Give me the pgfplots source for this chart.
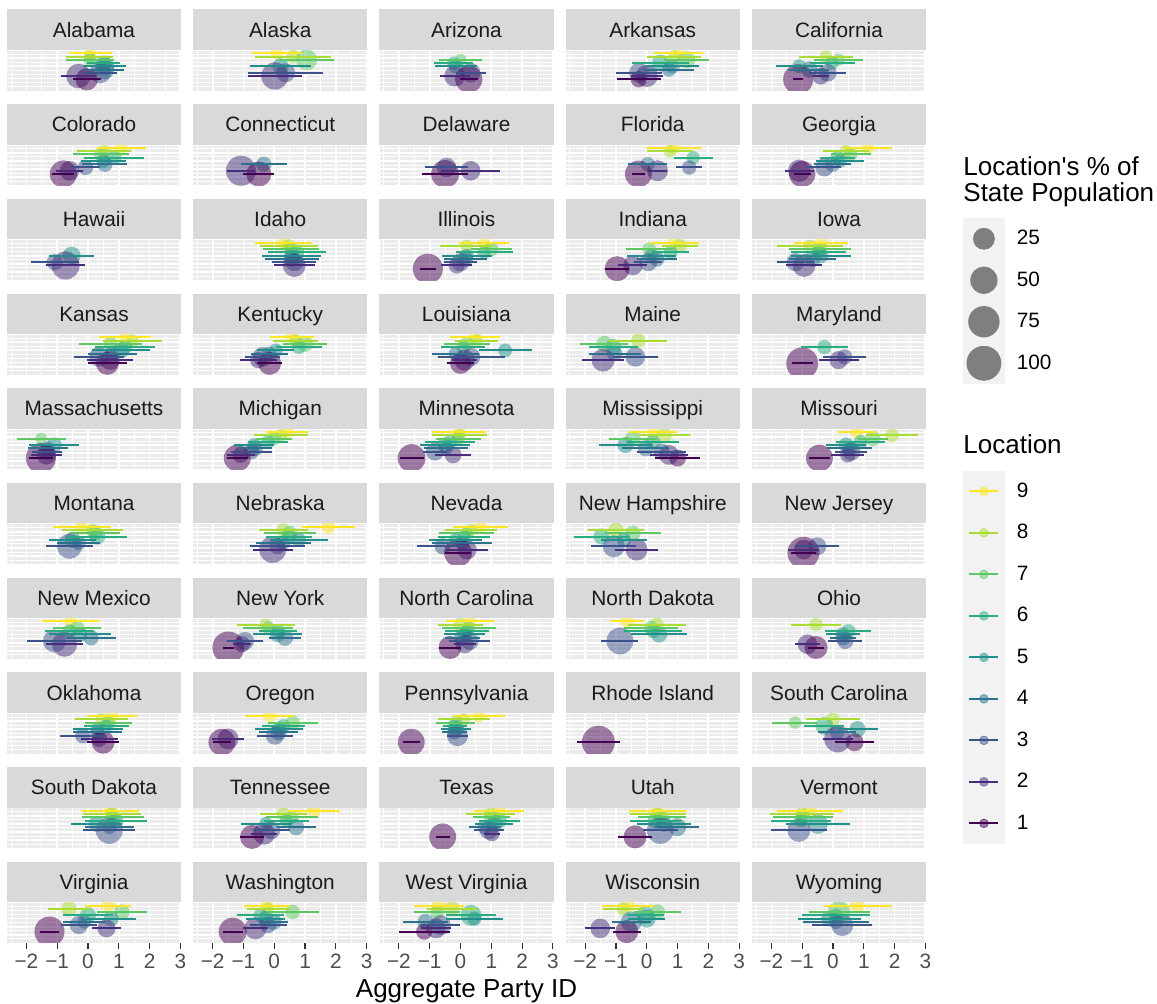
\documentclass[border=0pt]{standalone}
\usepackage{fontspec}
\setmainfont{Liberation Sans}
\usepackage{pgfplots}
\usepackage{pgfplotstable}
\pgfplotsset{compat=1.18}
\definecolor{panelgrey}{HTML}{EBEBEB}
\definecolor{stripgrey}{HTML}{D9D9D9}
\definecolor{striptext}{HTML}{1A1A1A}
\definecolor{tickgrey}{HTML}{4D4D4D}
\definecolor{tickmark}{HTML}{333333}
\definecolor{keybg}{HTML}{F2F2F2}
\definecolor{greyfifty}{HTML}{7F7F7F}
\definecolor{v1}{RGB}{68,1,84}
\definecolor{v2}{RGB}{71,45,123}
\definecolor{v3}{RGB}{59,82,139}
\definecolor{v4}{RGB}{44,114,142}
\definecolor{v5}{RGB}{33,144,140}
\definecolor{v6}{RGB}{39,173,129}
\definecolor{v7}{RGB}{93,200,99}
\definecolor{v8}{RGB}{170,220,50}
\definecolor{v9}{RGB}{253,231,37}

\pgfplotsset{
 colormap={vir}{rgb255=(68,1,84) rgb255=(71,45,123) rgb255=(59,82,139) rgb255=(44,114,142) rgb255=(33,144,140) rgb255=(39,173,129) rgb255=(93,200,99) rgb255=(170,220,50) rgb255=(253,231,37)},
 panel/.style={
  scale only axis, width=87pt, height=20.35pt, anchor=north west,
  xmin=-2.63, xmax=3.02, ymin=-2.5, ymax=10,
  axis background/.style={fill=panelgrey},
  axis line style={draw=none},
  xtick={-2,-1,0,1,2,3}, minor xtick={-2.5,-1.5,-0.5,0.5,1.5,2.5},
  ytick={0,2.5,5,7.5,10}, minor ytick={-1.25,1.25,3.75,6.25,8.75},
  xticklabels={}, yticklabels={},
  grid=both,
  major grid style={white, line width=0.9pt},
  minor grid style={white, line width=0.45pt},
  xtick style={draw=none}, ytick style={draw=none},
  minor tick length=0pt,
  every axis title/.style={at={(0.5,1)}, anchor=south, yshift=0pt, fill=stripgrey, text=striptext,
    minimum width=87pt, minimum height=20.25pt, inner sep=0pt, outer sep=0pt,
    text height=7.45pt, text depth=0pt, font=\fontsize{10.4}{12}\selectfont},
  colormap name=vir, point meta min=1, point meta max=9,
  clip marker paths=true,
 },
 bottomrow/.style={
  xticklabels={−2,−1,0,1,2,3},
  xtick style={draw=tickmark, line width=0.55pt},
  major tick length=3.25pt, tick align=outside, xtick pos=lower,
  xticklabel style={font=\fontsize{10.4}{12}\selectfont, text=tickgrey, inner sep=0pt, yshift=-1.9pt},
 },
}

\newcommand{\panel}[5]{%
\begin{axis}[panel, at={({(7+186.25*#1)*0.5pt},{-(50+94.7*#2)*0.5pt})}, title={#3}, #5]
\addplot[scatter, only marks, mark=*, point meta=\thisrow{loc},
  mark options={draw opacity=0},
  scatter/use mapped color={draw=mapped color, draw opacity=0, fill=mapped color, fill opacity=0.5},
  visualization depends on={2+0.65*sqrt(\thisrow{v}) \as \prad},
  scatter/@pre marker code/.append style={/tikz/mark size=\prad}]
  table[x=m, y=loc] {#4};
\addplot[quiver={u=2*\thisrow{h}, v=0, colored=mapped color, every arrow/.append style={-, line width=1pt}},
  mark=none, point meta=\thisrow{loc}]
  table[x expr=\thisrow{m}-\thisrow{h}, y=loc] {#4};
\end{axis}}

% ---------------- data: loc, mean, half-width, population share ----------------
\pgfplotstableread{
loc m h v
9 0.08 0.70 2
8 0.05 0.76 2
7 0.07 0.78 4
6 0.51 0.54 8
5 0.55 0.70 15
4 0.54 0.64 20
3 0.40 0.55 25
2 -0.31 0.56 40
1 -0.04 0.46 30
}\datAL
\pgfplotstableread{
loc m h v
9 0.08 0.81 3
8 0.61 1.22 5
7 1.05 0.90 25
5 0.20 0.98 10
3 0.37 1.22 18
2 0.02 0.87 55
}\datAK
\pgfplotstableread{
loc m h v
7 0.01 0.70 2
6 -0.22 0.64 4
5 -0.15 0.67 6
3 0.33 0.49 20
2 -0.19 0.49 25
1 0.27 0.30 55
}\datAZ
\pgfplotstableread{
loc m h v
9 1.04 0.80 3
8 0.89 0.87 3
7 1.30 0.73 12
6 0.45 0.92 12
5 0.84 0.87 6
4 0.72 0.82 6
3 -0.25 0.76 21
2 0.00 0.52 29
1 -0.26 0.72 10
}\datAR
\pgfplotstableread{
loc m h v
8 -0.23 0.87 3
7 0.18 0.79 3
6 -0.03 0.73 4
5 -1.10 0.76 5
4 -0.77 0.65 10
3 -0.17 0.60 14
2 -0.40 0.26 12
1 -1.13 0.17 72
}\datCA
\pgfplotstableread{
loc m h v
9 1.08 0.80 3
8 0.53 0.88 3
7 0.42 0.92 5
6 0.85 0.97 6
5 0.50 0.72 5
4 0.55 0.73 8
3 -0.08 0.48 8
2 -0.60 0.45 20
1 -0.80 0.36 55
}\datCO
\pgfplotstableread{
loc m h v
4 -0.34 0.75 8
2 -1.08 0.46 72
1 -0.50 0.50 43
}\datCT
\pgfplotstableread{
loc m h v
3 -0.45 0.70 20
2 0.33 0.95 20
1 -0.50 0.75 59
}\datDE
\pgfplotstableread{
loc m h v
9 0.87 0.90 3
8 0.75 0.75 3
6 1.51 0.63 4
4 0.03 0.64 6
3 1.38 0.43 6
2 0.35 0.30 25
1 -0.27 0.22 53
}\datFL
\pgfplotstableread{
loc m h v
9 1.13 0.79 3
8 0.42 0.76 3
7 0.58 0.65 4
6 0.14 0.56 5
5 0.23 0.79 5
4 -0.01 0.60 8
3 -0.28 0.55 15
2 -1.10 0.47 30
1 -1.00 0.28 50
}\datGA
\pgfplotstableread{
loc m h v
5 -0.53 0.73 15
3 -1.08 0.78 10
2 -0.73 0.64 60
}\datHI
\pgfplotstableread{
loc m h v
9 0.31 0.93 3
8 0.48 0.93 4
7 0.55 0.90 5
6 0.74 0.93 6
5 0.57 0.96 8
4 0.57 0.87 10
3 0.65 0.72 15
2 0.65 0.67 33
}\datID
\pgfplotstableread{
loc m h v
9 0.77 0.82 3
8 0.20 0.87 3
7 1.00 0.67 6
6 0.77 0.93 4
5 0.20 0.81 5
4 0.16 0.70 8
3 0.00 0.52 15
2 -0.12 0.50 10
1 -1.06 0.26 72
}\datIL
\pgfplotstableread{
loc m h v
9 0.90 0.80 3
8 1.08 0.57 5
7 0.08 0.76 5
6 0.78 0.60 5
5 0.16 0.79 6
4 0.33 0.64 8
3 0.05 0.46 15
2 -0.45 0.47 20
1 -0.96 0.38 43
}\datIN
\pgfplotstableread{
loc m h v
9 -0.39 0.87 3
8 -0.75 1.07 3
7 -0.42 1.00 6
6 -0.47 0.90 5
5 -0.40 0.98 8
4 -0.67 0.77 10
3 -1.22 0.61 15
2 -0.94 0.59 33
}\datIA
\pgfplotstableread{
loc m h v
9 1.21 0.84 3
8 1.45 0.96 3
7 0.73 1.03 5
6 1.20 0.96 6
5 1.07 0.93 10
4 0.80 0.80 6
3 0.36 0.82 20
2 0.72 0.75 20
1 0.63 0.64 33
}\datKS
\pgfplotstableread{
loc m h v
9 0.58 0.72 3
8 0.69 0.72 3
7 1.00 0.70 10
6 0.80 0.75 5
5 0.05 0.60 5
4 -0.15 0.60 6
3 -0.38 0.58 20
2 -0.52 0.60 10
1 -0.15 0.40 33
}\datKY
\pgfplotstableread{
loc m h v
9 0.48 0.81 3
8 0.53 0.70 3
7 0.20 0.75 5
6 0.08 0.72 4
5 1.45 0.86 5
4 -0.16 0.75 5
3 0.35 1.09 15
2 0.13 0.40 25
1 0.00 0.45 25
}\datLA
\pgfplotstableread{
loc m h v
8 -0.28 0.95 6
7 -1.38 0.78 10
6 -1.09 0.79 10
4 -1.04 0.84 8
3 -0.37 0.73 20
2 -1.42 0.68 33
}\datME
\pgfplotstableread{
loc m h v
6 -0.28 0.76 6
3 0.38 0.70 8
2 0.18 0.65 15
1 -1.00 0.34 85
}\datMD
\pgfplotstableread{
loc m h v
7 -1.52 0.79 2
5 -1.10 0.80 8
4 -1.30 0.65 5
3 -1.34 0.49 10
2 -1.35 0.50 20
1 -1.53 0.38 72
}\datMA
\pgfplotstableread{
loc m h v
9 0.42 0.68 3
8 0.21 0.87 3
7 0.00 0.58 5
6 -0.20 0.64 5
5 -0.65 0.65 5
4 -0.62 0.55 8
3 -0.74 0.68 8
2 -1.09 0.45 10
1 -1.20 0.35 53
}\datMI
\pgfplotstableread{
loc m h v
9 -0.04 0.87 3
8 -0.03 0.88 3
7 -0.07 0.72 4
6 -0.34 0.81 5
5 -0.50 0.81 8
4 -0.47 0.72 5
3 -0.83 0.38 15
2 -0.24 0.58 12
1 -1.59 0.39 59
}\datMN
\pgfplotstableread{
loc m h v
9 0.20 0.77 3
8 0.57 0.82 8
7 -0.45 0.77 8
6 0.20 0.84 6
5 -0.69 0.87 10
4 -0.03 0.76 10
3 0.48 0.79 10
2 0.72 0.61 21
1 1.00 0.72 12
}\datMS
\pgfplotstableread{
loc m h v
9 0.78 0.63 4
8 1.92 0.84 5
7 1.30 0.50 8
6 0.90 0.80 5
5 0.43 0.65 8
4 0.55 0.73 6
3 0.60 0.52 15
2 0.48 0.54 8
1 -0.44 0.34 53
}\datMO
\pgfplotstableread{
loc m h v
9 -0.20 0.94 3
8 0.15 1.00 4
7 0.22 0.81 8
6 0.30 0.97 10
5 -0.50 0.75 10
4 -0.30 0.70 6
3 -0.60 0.76 43
}\datMT
\pgfplotstableread{
loc m h v
9 1.76 0.87 5
8 0.30 0.81 5
7 0.50 0.84 8
6 0.48 0.75 5
5 0.80 0.93 6
4 0.30 0.90 5
3 0.10 0.90 10
2 -0.05 0.65 53
}\datNE
\pgfplotstableread{
loc m h v
9 0.65 0.90 3
8 0.34 0.84 3
7 0.20 0.90 3
6 0.12 0.84 4
5 -0.16 0.85 4
4 0.06 0.97 5
3 -0.58 0.82 10
2 0.21 0.68 20
1 -0.08 0.43 59
}\datNV
\pgfplotstableread{
loc m h v
8 -1.00 0.91 8
7 -0.45 0.91 8
6 -1.47 0.90 10
5 -0.74 0.76 6
3 -1.07 0.73 29
2 -0.33 0.71 29
}\datNH
\pgfplotstableread{
loc m h v
3 -0.51 0.72 15
2 -0.95 0.50 20
1 -0.96 0.41 85
}\datNJ
\pgfplotstableread{
loc m h v
9 -0.57 0.92 3
7 -0.35 0.78 6
6 -0.60 0.80 5
5 -0.25 1.00 6
4 0.10 0.80 8
3 -1.09 0.88 33
2 -0.76 0.61 43
}\datNM
\pgfplotstableread{
loc m h v
8 -0.28 0.94 3
7 -0.19 0.81 4
6 0.12 0.62 6
5 0.10 0.80 8
4 0.35 0.52 10
3 -0.95 0.59 15
2 -1.05 0.28 10
1 -1.49 0.19 85
}\datNY
\pgfplotstableread{
loc m h v
9 0.31 0.77 3
8 0.00 0.74 5
7 0.28 0.87 4
6 0.21 0.72 4
5 0.13 0.68 5
4 0.06 0.56 10
3 0.30 0.66 15
2 0.14 0.35 15
1 -0.34 0.36 33
}\datNC
\pgfplotstableread{
loc m h v
9 -0.63 0.54 4
8 0.33 0.93 6
7 0.14 0.87 6
6 0.20 0.95 5
5 0.40 0.90 10
3 -0.87 0.60 53
}\datND
\pgfplotstableread{
loc m h v
8 -0.55 0.82 4
6 0.50 0.75 6
5 0.32 0.55 6
4 0.33 0.42 8
3 0.40 0.55 10
2 -0.83 0.40 20
1 -0.55 0.27 33
}\datOH
\pgfplotstableread{
loc m h v
9 0.78 0.81 4
8 0.44 0.85 3
7 0.67 0.76 4
6 0.60 0.72 4
5 0.32 0.81 5
4 0.30 0.80 5
3 -0.17 0.75 8
2 0.36 0.60 10
1 0.49 0.52 33
}\datOK
\pgfplotstableread{
loc m h v
9 -0.15 0.79 4
7 0.60 0.81 6
6 0.30 0.70 5
5 0.17 0.78 8
4 0.14 0.64 10
3 0.02 0.58 15
2 -1.50 0.52 25
1 -1.70 0.28 53
}\datOR
\pgfplotstableread{
loc m h v
9 0.60 0.85 3
8 0.11 0.84 3
7 -0.15 0.63 5
6 -0.18 0.38 4
5 -0.15 0.48 10
4 -0.20 0.40 6
3 -0.10 0.34 25
1 -1.60 0.28 53
}\datPA
\pgfplotstableread{
loc m h v
1 -1.57 0.69 92
}\datRI
\pgfplotstableread{
loc m h v
8 0.00 0.89 5
7 -1.23 0.74 3
6 -0.28 0.65 15
5 0.80 0.65 10
4 0.13 0.63 6
2 0.15 0.49 53
1 0.70 0.62 15
}\datSC
\pgfplotstableread{
loc m h v
9 0.74 0.93 4
8 0.78 0.93 4
7 0.82 1.00 8
6 0.90 1.00 8
5 0.28 0.84 10
4 0.70 0.80 5
3 0.69 0.84 53
}\datSD
\pgfplotstableread{
loc m h v
9 1.30 0.83 4
8 0.30 0.77 5
7 0.57 0.84 4
6 0.40 0.72 4
5 -0.27 0.81 5
4 0.71 0.63 10
3 -0.10 0.60 15
2 -0.33 0.42 29
1 -0.72 0.39 38
}\datTN
\pgfplotstableread{
loc m h v
9 1.26 0.81 4
8 0.98 0.79 4
7 1.00 0.60 8
6 1.26 0.67 8
5 1.10 0.62 10
4 0.78 0.51 6
3 0.92 0.49 15
2 1.02 0.27 8
1 -0.58 0.23 53
}\datTX
\pgfplotstableread{
loc m h v
9 0.35 0.92 4
8 0.35 0.91 4
7 0.50 0.77 6
6 0.27 0.83 8
5 0.56 0.89 10
4 0.99 0.72 15
3 0.44 0.56 53
1 -0.38 0.54 33
}\datUT
\pgfplotstableread{
loc m h v
9 -0.75 1.07 6
8 -1.00 1.03 4
7 -0.97 0.97 8
6 -1.04 0.98 5
5 -0.49 1.03 21
3 -1.11 0.91 33
}\datVT
\pgfplotstableread{
loc m h v
9 0.66 0.75 4
8 -0.62 0.69 8
7 1.10 0.80 8
6 0.00 0.81 10
5 0.75 0.80 8
4 -0.12 0.68 5
3 -0.30 0.58 15
2 0.60 0.48 15
1 -1.25 0.31 72
}\datVA
\pgfplotstableread{
loc m h v
9 -0.23 0.75 4
8 -0.20 0.70 3
7 0.60 0.85 6
6 -0.45 0.77 5
5 -0.28 0.64 8
4 -0.02 0.48 10
3 -0.20 0.60 10
2 -0.61 0.40 29
1 -1.35 0.33 59
}\datWA
\pgfplotstableread{
loc m h v
9 -0.70 0.82 6
8 -0.28 0.80 8
7 -0.76 0.75 5
6 0.34 0.81 25
5 0.45 0.92 6
4 -1.13 0.74 10
3 -0.64 0.64 21
2 -0.80 0.48 21
1 -1.18 0.83 10
}\datWV
\pgfplotstableread{
loc m h v
9 -0.60 0.84 4
8 -0.77 0.65 4
7 0.35 0.76 8
6 -0.05 0.60 15
5 0.00 0.60 15
4 -0.50 0.64 25
2 -1.51 0.48 20
1 -0.65 0.45 33
}\datWI
\pgfplotstableread{
loc m h v
9 0.80 1.10 6
7 0.20 0.99 30
6 0.10 1.10 5
5 -0.12 1.03 10
4 0.10 1.06 6
3 0.30 0.98 29
}\datWY

\begin{document}
\begin{tikzpicture}
\useasboundingbox (0,0) rectangle (578.5pt,-502pt);

\panel{0}{0}{Alabama}{\datAL}{}
\panel{1}{0}{Alaska}{\datAK}{}
\panel{2}{0}{Arizona}{\datAZ}{}
\panel{3}{0}{Arkansas}{\datAR}{}
\panel{4}{0}{California}{\datCA}{}
\panel{0}{1}{Colorado}{\datCO}{}
\panel{1}{1}{Connecticut}{\datCT}{}
\panel{2}{1}{Delaware}{\datDE}{}
\panel{3}{1}{Florida}{\datFL}{}
\panel{4}{1}{Georgia}{\datGA}{}
\panel{0}{2}{Hawaii}{\datHI}{}
\panel{1}{2}{Idaho}{\datID}{}
\panel{2}{2}{Illinois}{\datIL}{}
\panel{3}{2}{Indiana}{\datIN}{}
\panel{4}{2}{Iowa}{\datIA}{}
\panel{0}{3}{Kansas}{\datKS}{}
\panel{1}{3}{Kentucky}{\datKY}{}
\panel{2}{3}{Louisiana}{\datLA}{}
\panel{3}{3}{Maine}{\datME}{}
\panel{4}{3}{Maryland}{\datMD}{}
\panel{0}{4}{Massachusetts}{\datMA}{}
\panel{1}{4}{Michigan}{\datMI}{}
\panel{2}{4}{Minnesota}{\datMN}{}
\panel{3}{4}{Mississippi}{\datMS}{}
\panel{4}{4}{Missouri}{\datMO}{}
\panel{0}{5}{Montana}{\datMT}{}
\panel{1}{5}{Nebraska}{\datNE}{}
\panel{2}{5}{Nevada}{\datNV}{}
\panel{3}{5}{New Hampshire}{\datNH}{}
\panel{4}{5}{New Jersey}{\datNJ}{}
\panel{0}{6}{New Mexico}{\datNM}{}
\panel{1}{6}{New York}{\datNY}{}
\panel{2}{6}{North Carolina}{\datNC}{}
\panel{3}{6}{North Dakota}{\datND}{}
\panel{4}{6}{Ohio}{\datOH}{}
\panel{0}{7}{Oklahoma}{\datOK}{}
\panel{1}{7}{Oregon}{\datOR}{}
\panel{2}{7}{Pennsylvania}{\datPA}{}
\panel{3}{7}{Rhode Island}{\datRI}{}
\panel{4}{7}{South Carolina}{\datSC}{}
\panel{0}{8}{South Dakota}{\datSD}{}
\panel{1}{8}{Tennessee}{\datTN}{}
\panel{2}{8}{Texas}{\datTX}{}
\panel{3}{8}{Utah}{\datUT}{}
\panel{4}{8}{Vermont}{\datVT}{}
\panel{0}{9}{Virginia}{\datVA}{bottomrow}
\panel{1}{9}{Washington}{\datWA}{bottomrow}
\panel{2}{9}{West Virginia}{\datWV}{bottomrow}
\panel{3}{9}{Wisconsin}{\datWI}{bottomrow}
\panel{4}{9}{Wyoming}{\datWY}{bottomrow}

% axis title
\node[anchor=base, font=\fontsize{13}{15}\selectfont, inner sep=0pt] at (233.25pt,-498.75pt) {Aggregate Party ID};

% legend titles
\node[anchor=base west, font=\fontsize{13}{15}\selectfont, inner sep=0pt] at (481.5pt,-87.6pt) {Location\textquotesingle s \% of};
\node[anchor=base west, font=\fontsize{13}{15}\selectfont, inner sep=0pt] at (481.5pt,-100.9pt) {State Population};
\node[anchor=base west, font=\fontsize{13}{15}\selectfont, inner sep=0pt] at (481.5pt,-226.7pt) {Location};

% size legend
\begin{axis}[at={(481.5pt,-109pt)}, anchor=north west, scale only axis, width=10pt, height=10pt,
  hide axis, xmin=0, xmax=1, ymin=0, ymax=1,
  legend style={at={(0,1)}, anchor=north west, draw=none, fill=none, inner sep=0pt, outer sep=0pt,
    row sep=0pt, font=\fontsize{10.4}{12}\selectfont, nodes={inner sep=0pt},
    /tikz/every odd column/.append style={column sep=6pt}},
  legend cell align=left]
\addlegendimage{legend image code/.code={\fill[keybg] (0pt,-10.175pt) rectangle (20.5pt,10.175pt); \fill[greyfifty] (10.25pt,0pt) circle (5.25pt);}}
\addlegendentry{25}
\addlegendimage{legend image code/.code={\fill[keybg] (0pt,-10.175pt) rectangle (20.5pt,10.175pt); \fill[greyfifty] (10.25pt,0pt) circle (6.6pt);}}
\addlegendentry{50}
\addlegendimage{legend image code/.code={\fill[keybg] (0pt,-10.175pt) rectangle (20.5pt,10.175pt); \fill[greyfifty] (10.25pt,0pt) circle (7.63pt);}}
\addlegendentry{75}
\addlegendimage{legend image code/.code={\fill[keybg] (0pt,-10.175pt) rectangle (20.5pt,10.175pt); \fill[greyfifty] (10.25pt,0pt) circle (8.5pt);}}
\addlegendentry{100}
\end{axis}

% location legend
\begin{axis}[at={(481.5pt,-235.3pt)}, anchor=north west, scale only axis, width=10pt, height=10pt,
  hide axis, xmin=0, xmax=1, ymin=0, ymax=1,
  legend style={at={(0,1)}, anchor=north west, draw=none, fill=none, inner sep=0pt, outer sep=0pt,
    row sep=0pt, font=\fontsize{10.4}{12}\selectfont, nodes={inner sep=0pt},
    /tikz/every odd column/.append style={column sep=6pt}},
  legend cell align=left]
\addlegendimage{legend image code/.code={\fill[keybg] (0pt,-10.175pt) rectangle (20.5pt,10.175pt); \fill[v9, opacity=0.5] (10.25pt,0pt) circle (2.2pt); \draw[v9, line width=1pt] (3pt,0pt) -- (17.5pt,0pt);}}
\addlegendentry{9}
\addlegendimage{legend image code/.code={\fill[keybg] (0pt,-10.175pt) rectangle (20.5pt,10.175pt); \fill[v8, opacity=0.5] (10.25pt,0pt) circle (2.2pt); \draw[v8, line width=1pt] (3pt,0pt) -- (17.5pt,0pt);}}
\addlegendentry{8}
\addlegendimage{legend image code/.code={\fill[keybg] (0pt,-10.175pt) rectangle (20.5pt,10.175pt); \fill[v7, opacity=0.5] (10.25pt,0pt) circle (2.2pt); \draw[v7, line width=1pt] (3pt,0pt) -- (17.5pt,0pt);}}
\addlegendentry{7}
\addlegendimage{legend image code/.code={\fill[keybg] (0pt,-10.175pt) rectangle (20.5pt,10.175pt); \fill[v6, opacity=0.5] (10.25pt,0pt) circle (2.2pt); \draw[v6, line width=1pt] (3pt,0pt) -- (17.5pt,0pt);}}
\addlegendentry{6}
\addlegendimage{legend image code/.code={\fill[keybg] (0pt,-10.175pt) rectangle (20.5pt,10.175pt); \fill[v5, opacity=0.5] (10.25pt,0pt) circle (2.2pt); \draw[v5, line width=1pt] (3pt,0pt) -- (17.5pt,0pt);}}
\addlegendentry{5}
\addlegendimage{legend image code/.code={\fill[keybg] (0pt,-10.175pt) rectangle (20.5pt,10.175pt); \fill[v4, opacity=0.5] (10.25pt,0pt) circle (2.2pt); \draw[v4, line width=1pt] (3pt,0pt) -- (17.5pt,0pt);}}
\addlegendentry{4}
\addlegendimage{legend image code/.code={\fill[keybg] (0pt,-10.175pt) rectangle (20.5pt,10.175pt); \fill[v3, opacity=0.5] (10.25pt,0pt) circle (2.2pt); \draw[v3, line width=1pt] (3pt,0pt) -- (17.5pt,0pt);}}
\addlegendentry{3}
\addlegendimage{legend image code/.code={\fill[keybg] (0pt,-10.175pt) rectangle (20.5pt,10.175pt); \fill[v2, opacity=0.5] (10.25pt,0pt) circle (2.2pt); \draw[v2, line width=1pt] (3pt,0pt) -- (17.5pt,0pt);}}
\addlegendentry{2}
\addlegendimage{legend image code/.code={\fill[keybg] (0pt,-10.175pt) rectangle (20.5pt,10.175pt); \fill[v1, opacity=0.5] (10.25pt,0pt) circle (2.2pt); \draw[v1, line width=1pt] (3pt,0pt) -- (17.5pt,0pt);}}
\addlegendentry{1}
\end{axis}
\end{tikzpicture}
\end{document}
